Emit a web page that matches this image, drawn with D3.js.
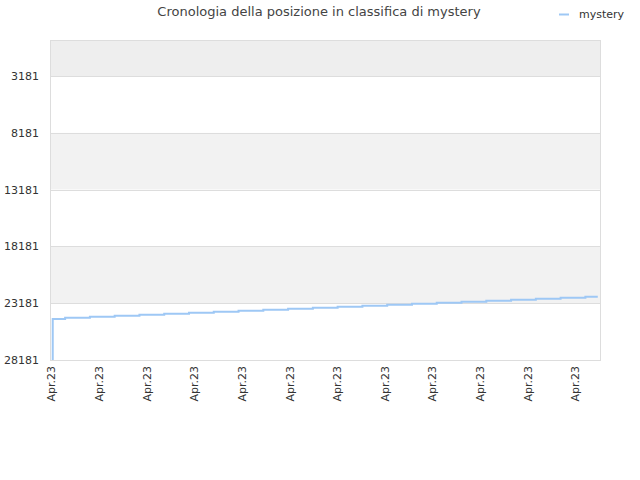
<!DOCTYPE html>
<html>
<head>
<meta charset="UTF-8">
<title>Cronologia</title>
<script src="https://d3js.org/d3.v7.min.js"></script>
<style>
  body { margin: 0; background: #fff; }
  svg { font-family: "DejaVu Sans", sans-serif; }
</style>
</head>
<body>
<svg id="chart" width="640" height="480"></svg>
<script>
// data
var seriesName = "mystery";
var days = [0.07, 0.07, 1.07, 2.07, 3.07, 4.07, 5.07, 6.07, 7.07, 8.07, 9.07, 10.07,
            11.07, 12.07, 13.07, 14.07, 15.07, 16.07, 17.07, 18.07, 19.07, 20.07, 21.07, 22.07];
var ranks = [28181, 24570, 24460, 24370, 24280, 24195, 24105, 24020, 23930, 23840, 23755, 23665,
             23580, 23490, 23400, 23315, 23225, 23140, 23050, 22960, 22875, 22785, 22700, 22610];
var yTicks = [3181, 8181, 13181, 18181, 23181, 28181];
var xTicks = [0, 1.92, 3.85, 5.77, 7.69, 9.62, 11.54, 13.46, 15.38, 17.31, 19.23, 21.15];
var xTickLabels = ["Apr.23", "Apr.23", "Apr.23", "Apr.23", "Apr.23", "Apr.23",
                   "Apr.23", "Apr.23", "Apr.23", "Apr.23", "Apr.23", "Apr.23"];

var plotLeft = 51, plotRight = 600, plotTop = 40, plotBottom = 360;
var svg = d3.select("#chart");

var x = d3.scaleLinear().domain([0, 22.16]).range([plotLeft, plotRight]);
var y = d3.scaleLinear().domain([1, 28181]).range([plotTop, plotBottom]);

// background bands
var bandEdges = [1].concat(yTicks);
var bands = svg.append("g");
for (var i = 0; i < bandEdges.length - 1; i++) {
    var fill = i == 0 ? "#eeeeee" : (i % 2 == 0 ? "#f2f2f2" : "#ffffff");
    bands.append("rect")
        .attr("x", plotLeft)
        .attr("y", y(bandEdges[i]))
        .attr("width", plotRight - plotLeft)
        .attr("height", y(bandEdges[i + 1]) - y(bandEdges[i]))
        .attr("fill", fill);
}

// grid lines
svg.append("g").selectAll("line").data(yTicks).enter().append("line")
    .attr("x1", plotLeft).attr("x2", plotRight)
    .attr("y1", function (d) { return Math.round(y(d)) + 0.5; })
    .attr("y2", function (d) { return Math.round(y(d)) + 0.5; })
    .attr("stroke", "#dddddd");

// border
svg.append("rect")
    .attr("x", plotLeft - 0.5).attr("y", plotTop + 0.5)
    .attr("width", plotRight - plotLeft + 1).attr("height", plotBottom - plotTop)
    .attr("fill", "none").attr("stroke", "#dddddd");

// y axis
var yAxis = svg.append("g")
    .attr("transform", "translate(" + (plotLeft - 12) + ",0)")
    .call(d3.axisLeft(y).tickValues(yTicks).tickSize(0).tickPadding(0).tickFormat(d3.format("d")));
yAxis.select(".domain").remove();
yAxis.selectAll("text").attr("fill", "#333").attr("font-size", "11px")
    .attr("font-family", "DejaVu Sans, sans-serif");

// x axis
var xAxis = svg.append("g")
    .attr("transform", "translate(0," + plotBottom + ")")
    .call(d3.axisBottom(x).tickValues(xTicks).tickSize(0)
        .tickFormat(function (d, i) { return xTickLabels[i]; }));
xAxis.select(".domain").remove();
xAxis.selectAll("text")
    .attr("fill", "#333").attr("font-size", "11px")
    .attr("font-family", "DejaVu Sans, sans-serif")
    .attr("transform", "rotate(-90)")
    .attr("text-anchor", "end")
    .attr("x", -6).attr("y", 0).attr("dy", "0.35em");

// series line
var line = d3.line()
    .x(function (d, i) { return x(days[i]); })
    .y(function (d) { return y(d); })
    .curve(d3.curveStep);
svg.append("path")
    .datum(ranks)
    .attr("d", line)
    .attr("fill", "none")
    .attr("stroke", "#9ec8f5")
    .attr("stroke-width", 2);

// title
svg.append("text")
    .attr("x", 319).attr("y", 16)
    .attr("text-anchor", "middle")
    .attr("font-size", "13px")
    .attr("fill", "#444")
    .text("Cronologia della posizione in classifica di " + seriesName);

// legend
svg.append("line")
    .attr("x1", 559).attr("x2", 569).attr("y1", 14.5).attr("y2", 14.5)
    .attr("stroke", "#9ec8f5").attr("stroke-width", 2);
svg.append("text")
    .attr("x", 579).attr("y", 18)
    .attr("font-size", "11px").attr("fill", "#333")
    .text(seriesName);
</script>
</body>
</html>
